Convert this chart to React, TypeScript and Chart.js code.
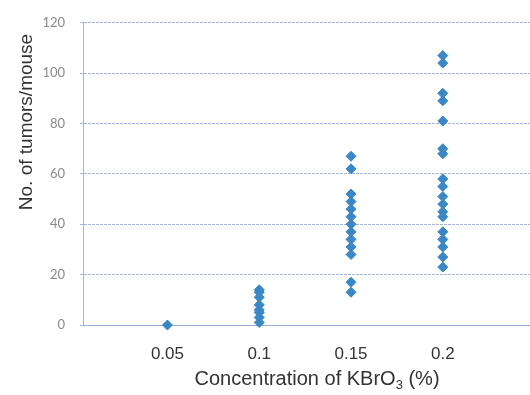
import React, { useEffect, useRef } from 'react';
import { Chart, registerables } from 'chart.js';

Chart.register(...registerables);

// ---- data ----
const concentrations = ['0.05', '0.1', '0.15', '0.2'];
const tumors005 = [0];
const tumors010 = [14, 13, 11, 8, 6, 5, 3, 1];
const tumors015 = [67, 62, 52, 49, 46, 43, 40, 37, 34, 31, 28, 17, 13];
const tumors020 = [107, 104, 92, 89, 81, 70, 68, 58, 55, 51, 48, 45, 43, 37, 34, 31, 27, 23];
const yTickValues = [0, 20, 40, 60, 80, 100, 120];
const yTitle = 'No. of tumors/mouse';
const xTitleMain = 'Concentration of KBrO';
const xTitleSub = '3';
const xTitleEnd = ' (%)';

const groups = [tumors005, tumors010, tumors015, tumors020];

const titlePlugin = {
  id: 'customTitles',
  afterDraw(chart: any) {
    const ctx = chart.ctx as CanvasRenderingContext2D;
    ctx.save();
    ctx.fillStyle = '#333333';
    // y title
    ctx.font = '19px "Liberation Sans", Arial, sans-serif';
    ctx.translate(32, 122);
    ctx.rotate(-Math.PI / 2);
    ctx.textAlign = 'center';
    ctx.textBaseline = 'alphabetic';
    ctx.fillText(yTitle, 0, 0);
    ctx.restore();

    // x title with subscript
    ctx.save();
    ctx.fillStyle = '#333333';
    ctx.textAlign = 'left';
    ctx.textBaseline = 'alphabetic';
    const mainFont = '20px "Liberation Sans", Arial, sans-serif';
    const subFont = '13px "Liberation Sans", Arial, sans-serif';
    ctx.font = mainFont;
    const w1 = ctx.measureText(xTitleMain).width;
    const w3 = ctx.measureText(xTitleEnd).width;
    ctx.font = subFont;
    const w2 = ctx.measureText(xTitleSub).width;
    const total = w1 + w2 + w3;
    const cx = 317;
    const base = 385;
    let x = cx - total / 2;
    ctx.font = mainFont;
    ctx.fillText(xTitleMain, x, base);
    x += w1;
    ctx.font = subFont;
    ctx.fillText(xTitleSub, x, base + 4);
    x += w2;
    ctx.font = mainFont;
    ctx.fillText(xTitleEnd, x, base);
    ctx.restore();
  },
};

export default function App() {
  const ref = useRef<HTMLCanvasElement | null>(null);

  useEffect(() => {
    if (!ref.current) return;
    const points = groups.flatMap((vals, i) => vals.map((v) => ({ x: i + 1, y: v })));
    const gridColor = 'rgba(150,168,205,0.85)';
    const chart = new Chart(ref.current, {
      type: 'scatter',
      data: {
        datasets: [
          {
            data: points,
            pointStyle: 'rectRot',
            pointRadius: 5,
            pointHoverRadius: 5,
            backgroundColor: '#3a87c6',
            borderColor: '#3a87c6',
            borderWidth: 1,
            clip: false,
          },
        ],
      },
      options: {
        responsive: false,
        animation: false,
        layout: { autoPadding: false, padding: { top: 15, left: 0, right: 0, bottom: 0 } },
        plugins: {
          legend: { display: false },
          tooltip: { enabled: false },
        },
        scales: {
          x: {
            type: 'linear',
            min: 0.08,
            max: 4.95,
            afterBuildTicks: (scale: any) => {
              scale.ticks = concentrations.map((_, i) => ({ value: i + 1 }));
            },
            afterFit: (scale: any) => {
              scale.height = 70;
            },
            ticks: {
              padding: 19,
              color: '#333333',
              font: { family: '"Liberation Sans", Arial, sans-serif', size: 17 },
              callback: (v: any) => concentrations[Math.round(Number(v)) - 1] ?? '',
              maxRotation: 0,
              autoSkip: false,
            },
            grid: { display: false, drawTicks: false },
            border: { display: true, color: gridColor, width: 1 },
          },
          y: {
            type: 'linear',
            min: 0,
            max: 120,
            afterBuildTicks: (scale: any) => {
              scale.ticks = yTickValues.map((v) => ({ value: v }));
            },
            afterFit: (scale: any) => {
              scale.width = 83;
            },
            ticks: {
              padding: 15,
              color: '#8a8a8a',
              font: { family: 'Lato, sans-serif', size: 13 },
            },
            grid: {
              color: gridColor,
              lineWidth: 1,
              tickLength: 3,
              drawTicks: true,
            },
            border: { display: true, color: gridColor, width: 1, dash: [3, 1] },
          },
        },
      },
      plugins: [titlePlugin],
    });
    return () => chart.destroy();
  }, []);

  return (
    <div style={{ position: 'fixed', left: 0, top: 0, width: 530, height: 395, background: '#ffffff' }}>
      <canvas ref={ref} width={530} height={395} />
    </div>
  );
}
